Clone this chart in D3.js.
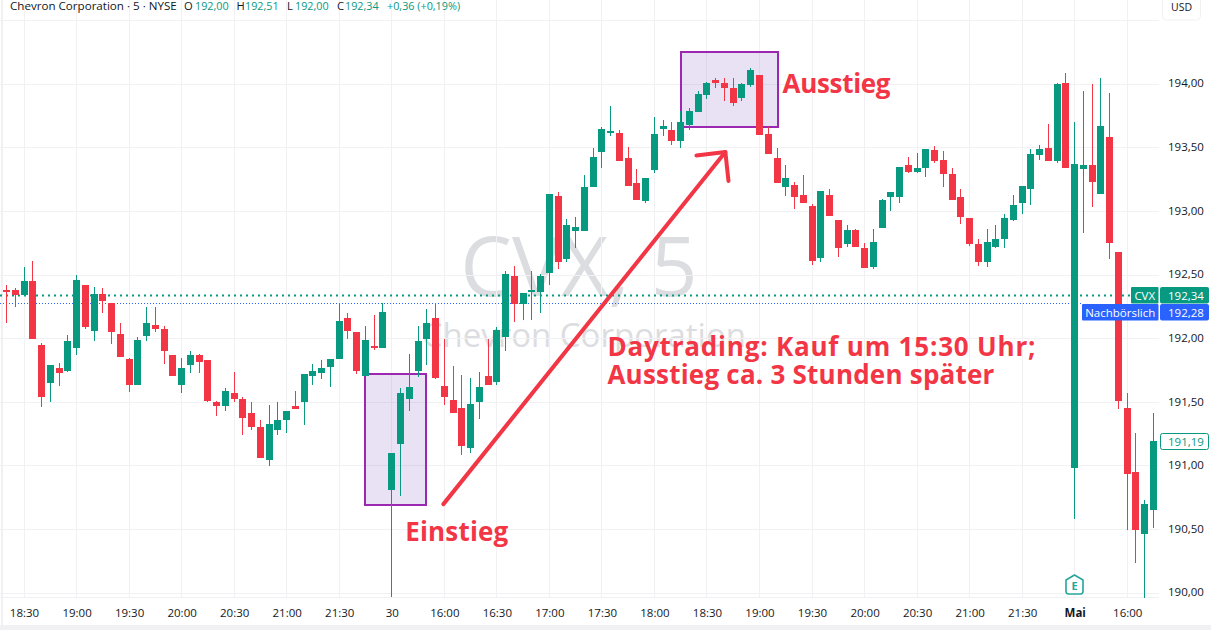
<!DOCTYPE html>
<html>
<head>
<meta charset="utf-8">
<style>
  body { margin: 0; background: #fff; overflow: hidden; }
  text { font-family: "Open Sans", sans-serif; }
</style>
<script src="https://cdn.jsdelivr.net/npm/d3@7"></script>
</head>
<body>
<div id="chart"></div>
<script>
var width = 1211;
var height = 630;

// 5 minute candles
var opens = [192.38,192.38,192.34,192.45,191.95,191.65,191.77,191.75,191.93,192.42,
  192.06,192.35,192.28,192.04,191.84,191.64,192.02,192.11,192.08,191.87,
  191.64,191.79,191.87,191.83,191.50,191.47,191.57,191.53,191.42,191.31,
  191.05,191.28,191.36,191.47,191.50,191.71,191.73,191.78,191.84,192.16,
  192.05,191.71,191.94,191.93,190.81,191.17,191.53,191.75,192.00,192.16,
  191.63,191.52,191.455,191.14,191.50,191.71,191.66,192.01,192.49,192.27,
  192.37,192.37,192.52,193.12,192.63,192.85,192.85,193.19,193.47,193.62,
  193.62,193.42,193.22,193.08,193.325,193.65,193.64,193.55,193.68,193.78,
  193.915,194.03,194.01,193.97,193.89,193.99,194.07,193.61,193.42,193.19,
  193.21,193.13,193.04,192.635,193.13,192.93,192.745,192.855,192.71,192.56,
  192.87,193.11,193.11,193.365,193.31,193.34,193.48,193.405,193.295,193.11,
  192.95,192.745,192.60,192.72,192.78,192.93,193.07,193.18,193.44,193.50,
  193.40,194.01,190.98,193.33,193.365,193.14,193.585,192.68,191.455,190.95,
  190.465,190.65];
var highs = [192.42,192.40,192.56,192.61,191.97,191.79,191.81,192.03,192.50,192.42,
  192.41,192.40,192.28,192.12,191.85,192.01,192.25,192.25,192.10,191.87,
  191.85,191.90,191.88,191.83,191.51,191.61,191.74,191.54,191.50,191.36,
  191.48,191.50,191.43,191.59,191.72,191.80,191.83,191.84,192.28,192.20,
  192.05,192.10,192.19,192.28,191.10,191.61,191.88,192.10,192.23,192.28,
  192.00,191.785,191.715,191.69,191.74,192.00,192.09,192.53,192.57,192.36,
  192.53,192.51,193.14,193.15,192.94,192.96,193.29,193.50,193.66,193.83,
  193.64,193.51,193.33,193.26,193.74,193.72,193.70,193.79,193.81,193.95,
  194.02,194.05,194.05,194.05,194.01,194.13,194.07,193.66,193.50,193.365,
  193.23,193.29,193.06,193.16,193.18,192.93,192.89,192.86,192.75,192.86,
  193.10,193.15,193.35,193.43,193.46,193.49,193.515,193.475,193.34,193.18,
  192.95,192.78,192.86,192.89,192.98,193.13,193.20,193.49,193.52,193.69,
  194.01,194.09,193.70,193.95,194.00,194.05,193.93,192.68,191.57,191.26,
  190.73,191.415];
var lows = [192.12,192.25,192.34,192.00,191.46,191.50,191.63,191.74,191.87,192.08,
  191.98,192.20,191.96,191.86,191.58,191.64,191.98,192.05,191.80,191.71,
  191.57,191.73,191.73,191.50,191.39,191.43,191.50,191.24,191.28,191.06,
  191.00,191.24,191.26,191.45,191.32,191.64,191.68,191.62,191.84,192.00,
  191.72,191.71,191.91,191.93,189.97,190.76,191.43,191.70,191.79,191.68,
  191.48,191.42,191.085,191.10,191.37,191.64,191.64,191.90,192.13,192.15,
  192.15,192.20,192.42,192.55,192.60,192.71,192.85,193.19,193.34,193.59,
  193.395,193.20,193.09,193.07,193.30,193.59,193.52,193.50,193.64,193.78,
  193.88,193.97,193.87,193.83,193.87,193.98,193.60,193.45,193.22,193.12,
  193.02,193.07,192.58,192.60,192.965,192.64,192.72,192.72,192.556,192.55,
  192.87,193.00,193.07,193.30,193.30,193.27,193.38,193.19,193.09,192.90,
  192.73,192.57,192.56,192.71,192.71,192.925,192.98,193.05,193.405,193.40,
  193.38,193.34,190.585,192.83,193.035,193.14,192.63,191.45,190.50,190.24,
  189.96,190.51];
var closes = [192.37,192.34,192.45,192.00,191.54,191.79,191.73,191.98,192.46,192.09,
  192.35,192.30,192.05,191.86,191.64,191.99,192.12,192.08,191.90,191.71,
  191.77,191.87,191.82,191.51,191.47,191.59,191.53,191.38,191.31,191.06,
  191.33,191.36,191.43,191.45,191.72,191.75,191.77,191.84,192.14,192.06,
  191.75,191.99,191.93,192.21,191.10,191.57,191.62,191.98,192.12,191.69,
  191.54,191.42,191.156,191.49,191.62,191.64,192.07,192.51,192.27,192.36,
  192.38,192.49,193.14,192.60,192.89,192.88,193.19,193.43,193.65,193.63,
  193.40,193.20,193.09,193.26,193.61,193.67,193.55,193.70,193.79,193.92,
  194.01,194.01,193.97,193.85,194.00,194.11,193.60,193.45,193.22,193.26,
  193.11,193.07,192.61,193.16,192.965,192.71,192.855,192.72,192.556,192.76,
  193.09,193.15,193.35,193.31,193.34,193.49,193.40,193.295,193.09,192.96,
  192.745,192.60,192.76,192.78,192.95,193.05,193.20,193.45,193.49,193.40,
  194.00,193.34,193.37,193.365,193.23,193.67,192.75,191.51,190.94,190.50,
  190.70,191.195];

var priceTicks = [190,190.5,191,191.5,192,192.5,193,193.5,194];
var gridPrices = [190,190.5,191,191.5,192,192.5,193,193.5,194,194.5];
var timeBars = [2,8,14,20,26,32,38,44,50,56,62,68,74,80,86,92,98,104,110,116,122,128];
var timeLabels = ["18:30","19:00","19:30","20:00","20:30","21:00","21:30","30","16:00","16:30","17:00","17:30","18:00","18:30","19:00","19:30","20:00","20:30","21:00","21:30","Mai","16:00"];

var lastPrice = 192.34;
var afterHoursPrice = 192.28;
var countdownPrice = 191.19;

// header values
var headerName = "Chevron Corporation · 5 · NYSE";
var ohlcKeys = ["O","H","L","C"];
var ohlcValues = ["192,00","192,51","192,00","192,34"];
var changeText = "+0,36 (+0,19%)";

var green = "#089981";
var red = "#f23645";
var blue = "#2962ff";
var purple = "#9c27b0";
var gridColor = "#f1f1f4";
var textColor = "#131722";

var x = d3.scaleLinear().domain([0,131]).range([6.5,1153.5]);
var y = d3.scaleLinear().domain([190,194]).range([593.2,84.2]);
var de = d3.formatLocale({decimal:",", thousands:".", grouping:[3], currency:["","€"]});
var fmt = de.format(".2f");

// annotations in bar / price units
var boxBars = [[41,48],[77,88.06]];
var boxPrices = [[191.72,190.69],[194.25,193.66]];
var arrowBars = [49.9,82.1];
var arrowPrices = [190.70,193.467];
var headBars = [78.8,82.1,82.46];
var headPrices = [193.44,193.467,193.24];

var svg = d3.select("#chart").append("svg")
    .attr("width", width)
    .attr("height", height)
    .style("display", "block");

svg.append("rect").attr("width", width).attr("height", height).attr("fill", "#fff");
svg.append("rect").attr("y", 625).attr("width", width).attr("height", 5).attr("fill", gridColor);
svg.append("rect").attr("x", 1).attr("width", 2).attr("height", 625).attr("fill", gridColor);

// watermark
svg.append("text").attr("x", 579).attr("y", 296)
    .attr("text-anchor", "middle").attr("font-size", 82).attr("fill", "#dcdde0")
    .text("CVX, 5");
svg.append("text").attr("x", 746).attr("y", 347)
    .attr("text-anchor", "end").attr("font-size", 33).attr("fill", "#dcdde0")
    .text("Chevron Corporation");

// grid
var grid = svg.append("g").attr("shape-rendering", "crispEdges").attr("stroke", gridColor);
grid.selectAll(".hgrid").data(gridPrices).enter().append("line")
    .attr("class", "hgrid")
    .attr("x1", 0).attr("x2", 1159)
    .attr("y1", function(d){ return Math.floor(y(d)) + 0.5; })
    .attr("y2", function(d){ return Math.floor(y(d)) + 0.5; });
grid.selectAll(".vgrid").data(timeBars).enter().append("line")
    .attr("class", "vgrid")
    .attr("y1", 0).attr("y2", 598)
    .attr("x1", function(d){ return Math.floor(x(d)) + 0.5; })
    .attr("x2", function(d){ return Math.floor(x(d)) + 0.5; });
grid.append("line").attr("x1", 0).attr("x2", 1159).attr("y1", 597.5).attr("y2", 597.5);

// price lines
svg.append("line")
    .attr("x1", 0).attr("x2", 1131)
    .attr("y1", Math.floor(y(lastPrice)) + 0.5).attr("y2", Math.floor(y(lastPrice)) + 0.5)
    .attr("stroke", green).attr("stroke-width", 2).attr("stroke-dasharray", "2,4");
svg.append("line")
    .attr("x1", 0).attr("x2", 1082)
    .attr("y1", Math.floor(y(afterHoursPrice)) + 0.5).attr("y2", Math.floor(y(afterHoursPrice)) + 0.5)
    .attr("stroke", blue).attr("stroke-width", 1).attr("stroke-dasharray", "1,2");

// the two highlight boxes
boxBars.forEach(function(b, i){
    svg.append("rect")
        .attr("x", Math.round(x(b[0])))
        .attr("y", Math.round(y(boxPrices[i][0])))
        .attr("width", Math.round(x(b[1]) - x(b[0])))
        .attr("height", Math.round(y(boxPrices[i][1]) - y(boxPrices[i][0])))
        .attr("fill", "#673ab7").attr("fill-opacity", 0.15)
        .attr("stroke", purple).attr("stroke-width", 2);
});

// candles
var candles = svg.append("g").attr("shape-rendering", "crispEdges");
var bars = candles.selectAll(".candle").data(d3.range(opens.length)).enter().append("g")
    .attr("class", "candle")
    .attr("fill", function(i){ return closes[i] >= opens[i] ? green : red; });
bars.append("rect")
    .attr("x", function(i){ return Math.floor(x(i)); })
    .attr("width", 1)
    .attr("y", function(i){ return y(highs[i]); })
    .attr("height", function(i){ return y(lows[i]) - y(highs[i]); });
bars.append("rect")
    .attr("x", function(i){ return Math.floor(x(i)) - 3; })
    .attr("width", 7)
    .attr("y", function(i){ return y(Math.max(opens[i], closes[i])); })
    .attr("height", function(i){ return Math.max(2, Math.abs(y(opens[i]) - y(closes[i]))); });

// arrow
var arrowLine = d3.line()
    .x(function(d){ return x(d[0]); })
    .y(function(d){ return y(d[1]); });
svg.append("path")
    .attr("d", arrowLine(d3.zip(arrowBars, arrowPrices)))
    .attr("fill", "none").attr("stroke", red).attr("stroke-width", 4).attr("stroke-linecap", "round");
svg.append("path")
    .attr("d", arrowLine(d3.zip(headBars, headPrices)))
    .attr("fill", "none").attr("stroke", red).attr("stroke-width", 4)
    .attr("stroke-linecap", "round").attr("stroke-linejoin", "round");

// annotation texts, stretched to the widths of the original font
var noteTexts = ["Einstieg","Ausstieg","Daytrading: Kauf um 15:30 Uhr;","Ausstieg ca. 3 Stunden später"];
var noteBars = [45.54,88.63,68.63,68.63];
var notePrices = [190.41,193.93,191.864,191.644];
var noteWidths = [103,108,428,387];
svg.selectAll(".note").data(noteTexts).enter().append("text")
    .attr("class", "note")
    .attr("x", function(d,i){ return x(noteBars[i]); })
    .attr("y", function(d,i){ return y(notePrices[i]); })
    .attr("textLength", function(d,i){ return noteWidths[i]; })
    .attr("lengthAdjust", "spacing")
    .attr("font-size", 26).attr("font-weight", 700).attr("fill", red)
    .text(function(d){ return d; });

// axes
var yAxis = svg.append("g")
    .attr("transform", "translate(1160,-1)")
    .call(d3.axisRight(y).tickValues(priceTicks).tickFormat(fmt).tickSize(0).tickPadding(8));
yAxis.select(".domain").remove();
yAxis.selectAll("text").attr("font-size", 11.5).attr("fill", textColor).style("font-family", "'Open Sans', sans-serif");

var xAxis = svg.append("g")
    .attr("transform", "translate(0,598)")
    .call(d3.axisBottom(x).tickValues(timeBars)
        .tickFormat(function(d,i){ return timeLabels[i]; }).tickSize(0).tickPadding(11));
xAxis.select(".domain").remove();
xAxis.selectAll("text").attr("font-size", 11.5).attr("fill", textColor)
    .style("font-family", "'Open Sans', sans-serif")
    .attr("font-weight", function(d,i){ return timeLabels[i] === "Mai" ? 700 : 400; });

// price tags on the right, the after hours one is pushed below the last price tag
function priceTag(price, top, bg, tagText, tagX, tagW) {
    svg.append("rect").attr("x", 1160).attr("y", top).attr("width", 49).attr("height", 16.5).attr("rx", 2).attr("fill", bg);
    svg.append("text").attr("x", 1168).attr("y", top + 12.5)
        .attr("font-size", 11.5).attr("fill", "#fff").text(fmt(price));
    svg.append("rect").attr("x", tagX).attr("y", top).attr("width", tagW).attr("height", 16.5).attr("rx", 1).attr("fill", bg);
    svg.append("text").attr("x", tagX + tagW / 2).attr("y", top + 12.5).attr("text-anchor", "middle")
        .attr("font-size", 11.5).attr("fill", "#fff").text(tagText);
}
var lastTop = Math.floor(y(lastPrice)) - 8;
priceTag(lastPrice, lastTop, green, "CVX", 1131, 27.5);
priceTag(afterHoursPrice, lastTop + 17, blue, "Nachbörslich", 1082, 76.5);

var cdTop = Math.floor(y(countdownPrice)) - 8;
svg.append("rect").attr("x", 1160.5).attr("y", cdTop + 0.5).attr("width", 48).attr("height", 16).attr("rx", 2)
    .attr("fill", "#fff").attr("stroke", green);
svg.append("text").attr("x", 1168).attr("y", cdTop + 12.5)
    .attr("font-size", 11.5).attr("fill", green).text(fmt(countdownPrice));

// USD button
svg.append("rect").attr("x", 1162.5).attr("y", -6).attr("width", 38).attr("height", 26).attr("rx", 4)
    .attr("fill", "#fff").attr("stroke", gridColor);
svg.append("text").attr("x", 1181.5).attr("y", 11).attr("text-anchor", "middle")
    .attr("font-size", 10.5).attr("fill", textColor).text("USD");

// earnings marker
var ex = Math.floor(x(122)) + 0.5;
svg.append("path")
    .attr("d", "M" + (ex-8.5) + ",580 L" + ex + ",575 L" + (ex+8.5) + ",580 V591 Q" + (ex+8.5) + ",594 " + (ex+6) + ",594 H" + (ex-6) + " Q" + (ex-8.5) + ",594 " + (ex-8.5) + ",591 Z")
    .attr("fill", "#fff").attr("stroke", "#26a69a").attr("stroke-width", 1.6).attr("stroke-linejoin", "round");
svg.append("text").attr("x", ex).attr("y", 590).attr("text-anchor", "middle")
    .attr("font-size", 11).attr("font-weight", 700).attr("fill", "#26a69a").text("E");

// header row
var headerY = 10;
svg.append("text").attr("x", 10).attr("y", headerY).attr("font-size", 11.6).attr("fill", textColor).text(headerName);
var keyX = [184,236.5,287,337];
var valueX = [195,245,295,345];
ohlcKeys.forEach(function(k, i){
    svg.append("text").attr("x", keyX[i]).attr("y", headerY).attr("font-size", 11.2).attr("fill", textColor).text(k);
    svg.append("text").attr("x", valueX[i]).attr("y", headerY).attr("font-size", 10.8).attr("fill", green).text(ohlcValues[i]);
});
svg.append("text").attr("x", 387).attr("y", headerY).attr("font-size", 10.8).attr("fill", green).text(changeText);
</script>
</body>
</html>
